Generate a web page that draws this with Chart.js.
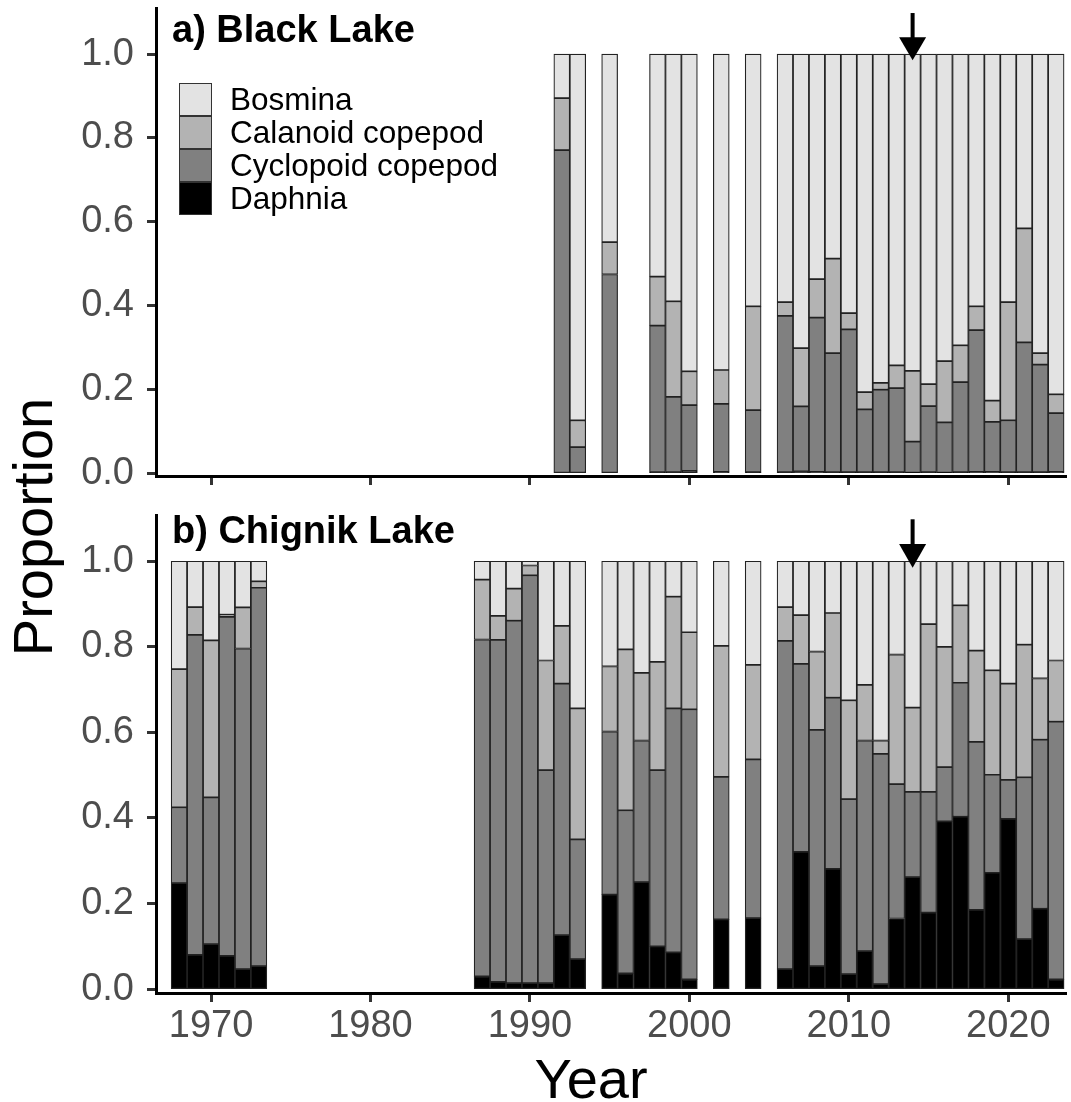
<!DOCTYPE html>
<html>
<head>
<meta charset="utf-8">
<script src="https://cdn.jsdelivr.net/npm/chart.js@4.4.0/dist/chart.umd.min.js"></script>
<style>
  body { margin: 0; background: #fff; font-family: "Liberation Sans", Arial, sans-serif; }
  #wrap { position: relative; width: 1071px; height: 1102px; overflow: hidden; }
  .painel { position: absolute; left: 0; width: 1071px; }
  .titulo { position: absolute; font-weight: bold; font-size: 38px; line-height: 1; color: #000; white-space: nowrap; }
  .eixo { position: absolute; font-size: 56px; line-height: 1; color: #000; white-space: nowrap; }
  #legenda { position: absolute; left: 179px; top: 83px; }
  .item { height: 33px; display: flex; align-items: center; }
  .caixa { width: 33px; height: 33px; box-sizing: border-box; border: 1px solid #333; }
  .rotulo { margin-left: 18px; font-size: 31.5px; line-height: 33px; color: #000; white-space: nowrap; }
</style>
</head>
<body>
<div id="wrap">
  <div class="painel" style="top:0; height:490px;"><canvas id="blackChart"></canvas></div>
  <div class="painel" style="top:490px; height:612px;"><canvas id="chignikChart"></canvas></div>
  <div class="titulo" style="left:172px; top:10px;">a) Black Lake</div>
  <div class="titulo" style="left:172px; top:511px;">b) Chignik Lake</div>
  <div id="legenda"></div>
  <div class="eixo" style="left:-167px; top:499px; width:400px; text-align:center; transform:rotate(-90deg);">Proportion</div>
  <div class="eixo" style="left:391px; top:1051px; width:400px; text-align:center;">Year</div>
</div>
<script>
// grupos (de baixo para cima) e cores
const grupos = ['Daphnia', 'Cyclopoid copepod', 'Calanoid copepod', 'Bosmina'];
const cores = ['#000000', '#808080', '#b3b3b3', '#e3e3e3'];

// a) Black Lake
const blackYears = [1992, 1993, 1995, 1998, 1999, 2000, 2002, 2004,
  2006, 2007, 2008, 2009, 2010, 2011, 2012, 2013, 2014, 2015, 2016, 2017, 2018, 2019, 2020, 2021, 2022, 2023];
const blackDaphnia = [0, 0, 0, 0.002, 0.002, 0.005, 0.003, 0.002,
  0.002, 0.004, 0.003, 0.002, 0.002, 0.002, 0.002, 0.002, 0.001, 0.002, 0.001, 0.002, 0.003, 0.003, 0.002, 0.002, 0.002, 0.003];
const blackCyclopoid = [0.771, 0.062, 0.474, 0.350, 0.180, 0.157, 0.162, 0.148,
  0.373, 0.155, 0.368, 0.284, 0.341, 0.150, 0.197, 0.201, 0.074, 0.158, 0.120, 0.215, 0.338, 0.119, 0.124, 0.310, 0.257, 0.140];
const blackCalanoid = [0.124, 0.064, 0.077, 0.117, 0.228, 0.081, 0.081, 0.248,
  0.033, 0.139, 0.092, 0.226, 0.039, 0.041, 0.016, 0.054, 0.169, 0.052, 0.146, 0.088, 0.057, 0.051, 0.282, 0.272, 0.027, 0.045];
const blackBosmina = [0.105, 0.874, 0.449, 0.531, 0.590, 0.757, 0.754, 0.602,
  0.592, 0.702, 0.537, 0.488, 0.618, 0.807, 0.785, 0.743, 0.756, 0.788, 0.733, 0.695, 0.602, 0.827, 0.592, 0.416, 0.714, 0.812];

// b) Chignik Lake
const chignikYears = [1968, 1969, 1970, 1971, 1972, 1973,
  1987, 1988, 1989, 1990, 1991, 1992, 1993,
  1995, 1996, 1997, 1998, 1999, 2000, 2002, 2004,
  2006, 2007, 2008, 2009, 2010, 2011, 2012, 2013, 2014, 2015, 2016, 2017, 2018, 2019, 2020, 2021, 2022, 2023];
const chignikDaphnia = [0.248, 0.080, 0.105, 0.078, 0.047, 0.054,
  0.030, 0.017, 0.014, 0.014, 0.014, 0.126, 0.070,
  0.221, 0.037, 0.250, 0.100, 0.086, 0.023, 0.163, 0.166,
  0.047, 0.321, 0.054, 0.281, 0.035, 0.089, 0.012, 0.165, 0.262, 0.179, 0.392, 0.403, 0.185, 0.272, 0.398, 0.117, 0.188, 0.023];
const chignikCyclopoid = [0.177, 0.748, 0.343, 0.792, 0.749, 0.884,
  0.787, 0.799, 0.847, 0.953, 0.498, 0.588, 0.280,
  0.381, 0.381, 0.331, 0.412, 0.570, 0.631, 0.333, 0.371,
  0.767, 0.439, 0.552, 0.400, 0.409, 0.492, 0.538, 0.314, 0.199, 0.282, 0.127, 0.313, 0.393, 0.229, 0.091, 0.378, 0.395, 0.602];
const chignikCalanoid = [0.323, 0.065, 0.367, 0.005, 0.096, 0.015,
  0.140, 0.056, 0.075, 0.023, 0.256, 0.135, 0.306,
  0.152, 0.376, 0.158, 0.253, 0.261, 0.180, 0.306, 0.221,
  0.079, 0.114, 0.183, 0.198, 0.231, 0.130, 0.031, 0.303, 0.197, 0.392, 0.281, 0.181, 0.213, 0.244, 0.225, 0.310, 0.143, 0.143];
const chignikBosmina = [0.252, 0.107, 0.185, 0.125, 0.108, 0.047,
  0.043, 0.128, 0.064, 0.010, 0.232, 0.151, 0.344,
  0.246, 0.206, 0.261, 0.235, 0.083, 0.166, 0.198, 0.242,
  0.107, 0.126, 0.211, 0.121, 0.325, 0.289, 0.419, 0.218, 0.342, 0.147, 0.200, 0.103, 0.209, 0.255, 0.286, 0.195, 0.274, 0.232];

const xTicks = [1970, 1980, 1990, 2000, 2010, 2020];
const yTicks = [0, 0.2, 0.4, 0.6, 0.8, 1.0];
const xMin = 1966.55, xMax = 2023.62;

// seta em 2014
const arrowYear = 2014;
const arrowFrom = 1.098, arrowHead = 1.04, arrowTo = 0.985;

const fonteTick = { family: '"Liberation Sans", Arial, sans-serif', size: 38 };

const setaPlugin = {
  id: 'seta',
  afterDatasetsDraw(chart) {
    const { ctx, scales: { x, y } } = chart;
    const px = x.getPixelForValue(arrowYear);
    const yTop = y.getPixelForValue(arrowFrom);
    const yBase = y.getPixelForValue(arrowHead);
    const yTip = y.getPixelForValue(arrowTo);
    ctx.save();
    ctx.strokeStyle = '#000';
    ctx.fillStyle = '#000';
    ctx.lineWidth = 4;
    ctx.beginPath();
    ctx.moveTo(px, yTop);
    ctx.lineTo(px, yBase + 2);
    ctx.stroke();
    ctx.beginPath();
    ctx.moveTo(px - 13.5, yBase);
    ctx.lineTo(px + 13.5, yBase);
    ctx.lineTo(px, yTip);
    ctx.closePath();
    ctx.fill();
    ctx.restore();
  }
};

function montarDatasets(years, series) {
  return series.map((vals, i) => ({
    label: grupos[i],
    data: years.map((ano, j) => ({ x: ano, y: vals[j] })),
    backgroundColor: cores[i],
    borderColor: '#222',
    borderWidth: 1.2,
    borderSkipped: false,
    barPercentage: 1,
    categoryPercentage: 1
  }));
}

function gerarGrafico(canvasId, years, series, opts) {
  const ctx = document.getElementById(canvasId);
  return new Chart(ctx, {
    type: 'bar',
    data: { datasets: montarDatasets(years, series) },
    options: {
      responsive: true,
      maintainAspectRatio: false,
      animation: false,
      layout: { padding: { top: opts.padTop, right: 5, left: 0, bottom: 0 } },
      plugins: { legend: { display: false }, tooltip: { enabled: false } },
      scales: {
        x: {
          type: 'linear',
          stacked: true,
          min: xMin,
          max: xMax,
          offset: false,
          afterBuildTicks: (scale) => { scale.ticks = xTicks.map(v => ({ value: v })); },
          afterFit: (scale) => {
            scale.height = opts.xHeight;
            scale.paddingLeft = 0;
            scale.paddingRight = 0;
          },
          ticks: {
            display: opts.showXLabels,
            color: '#4d4d4d',
            font: fonteTick,
            padding: 2,
            maxRotation: 0,
            autoSkip: false,
            callback: (v) => String(v)
          },
          grid: { display: true, offset: false, drawOnChartArea: false, drawTicks: true, tickLength: 9, tickColor: '#333', tickWidth: 3 },
          border: { display: true, color: '#000', width: 3 }
        },
        y: {
          stacked: true,
          min: opts.yMin,
          max: opts.yMax,
          afterBuildTicks: (scale) => { scale.ticks = yTicks.map(v => ({ value: v })); },
          afterFit: (scale) => {
            scale.width = 156;
            scale.paddingTop = 0;
            scale.paddingBottom = 0;
          },
          ticks: {
            color: '#4d4d4d',
            font: fonteTick,
            padding: 13,
            callback: (v) => v.toFixed(1)
          },
          grid: { display: true, drawOnChartArea: false, drawTicks: true, tickLength: 9, tickColor: '#333', tickWidth: 3 },
          border: { display: true, color: '#000', width: 3 }
        }
      }
    },
    plugins: [setaPlugin]
  });
}

function montarLegenda() {
  const legenda = document.getElementById('legenda');
  for (let i = grupos.length - 1; i >= 0; i--) {
    const item = document.createElement('div');
    item.className = 'item';
    item.innerHTML = `<div class="caixa" style="background:${cores[i]}"></div><div class="rotulo">${grupos[i]}</div>`;
    legenda.appendChild(item);
  }
}

function init() {
  gerarGrafico('blackChart', blackYears,
    [blackDaphnia, blackCyclopoid, blackCalanoid, blackBosmina],
    { padTop: 8, xHeight: 14, showXLabels: false, yMin: -0.007, yMax: 1.11 });
  gerarGrafico('chignikChart', chignikYears,
    [chignikDaphnia, chignikCyclopoid, chignikCalanoid, chignikBosmina],
    { padTop: 25, xHeight: 109, showXLabels: true, yMin: -0.009, yMax: 1.108 });
  montarLegenda();
}

if (document.readyState === 'loading') {
  document.addEventListener('DOMContentLoaded', init);
} else {
  init();
}
</script>
</body>
</html>
